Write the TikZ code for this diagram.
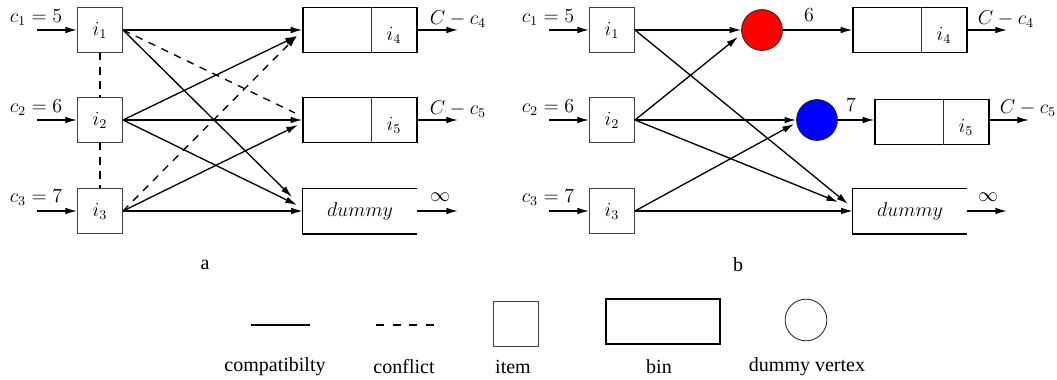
\documentclass[tikz,border=0pt]{standalone}
\usepackage{fontspec}
\setmainfont{Liberation Serif}
\usetikzlibrary{arrows.meta,calc}
\begin{document}
\begin{tikzpicture}[x=0.6pt,y=-0.6pt,
  every node/.style={font=\fontsize{11.5}{13}\selectfont, inner sep=0pt},
  itembox/.style={draw=black!75, line width=0.6pt, minimum width=27pt, minimum height=27pt},
  binbox/.style={draw, line width=0.8pt, minimum width=68.4pt, minimum height=27pt},
  dummybox/.style={minimum width=68.4pt, minimum height=27pt},
  vertex/.style={circle, draw=black!85, line width=0.5pt, minimum size=24.5pt},
  arr/.style={-{Latex[length=7pt,width=4pt]}, line width=0.8pt},
  conf/.style={dash pattern=on 4.5pt off 4pt, line width=0.8pt},
  divider/.style={line width=0.6pt, draw=black!80},
  legtext/.style={font=\rmfamily\fontsize{12}{14}\selectfont}
]
\useasboundingbox (0,0) rectangle (1057,380);

% ---------------- panel a ----------------
\node[itembox] (a1) at (100,30) {$i_1$};
\node[itembox] (a2) at (100,120) {$i_2$};
\node[itembox] (a3) at (100,211) {$i_3$};
\node (ac1) at (36,18) {$c_1=5$};
\node (ac2) at (36,108) {$c_2=6$};
\node (ac3) at (36,198) {$c_3=7$};
\coordinate (ai1) at (37,30);
\coordinate (ai2) at (37,120);
\coordinate (ai3) at (37,211);
\draw[arr] (ai1) -- (a1.west);
\draw[arr] (ai2) -- (a2.west);
\draw[arr] (ai3) -- (a3.west);

\node[binbox] (a4) at (360,30) {};
\draw[divider] ($(a4.north west)+(69,0)$) -- ($(a4.south west)+(69,0)$);
\node (al4) at (394,35) {$i_4$};
\node[binbox] (a5) at (360,120) {};
\draw[divider] ($(a5.north west)+(69,0)$) -- ($(a5.south west)+(69,0)$);
\node (al5) at (394,125) {$i_5$};
\node[dummybox] (ad) at (360,211) {$dummy$};
\draw[line width=0.8pt] (ad.north east) -- (ad.north west) -- (ad.south west) -- (ad.south east);

\node (ao4) at (458,19) {$C-c_4$};
\node (ao5) at (458,109) {$C-c_5$};
\node (ainf) at (440,197) {$\infty$};
\coordinate (ae4) at (458,30);
\coordinate (ae5) at (458,120);
\coordinate (aed) at (458,211);
\draw[arr] (a4.east) -- (ae4);
\draw[arr] (a5.east) -- (ae5);
\draw[arr] (ad.east) -- (aed);

\coordinate (ta1d) at (292,197);
\coordinate (ta15) at (295,113);
\coordinate (ta4) at (297,36);
\coordinate (ta2d) at (297,205);
\coordinate (ta35) at (298,125);
\draw[arr] (a1.east) -- (a4.west);
\draw[arr] (a1.east) -- (ta1d);
\draw[conf] (a1.east) -- (ta15);
\draw[arr] (a2.east) -- (ta4);
\draw[arr] (a2.east) -- (a5.west);
\draw[arr] (a2.east) -- (ta2d);
\draw[conf,-{Latex[length=7pt,width=4pt]}] (a3.east) -- (ta4);
\draw[arr] (a3.east) -- (ta35);
\draw[arr] (a3.east) -- (ad.west);
\draw[conf] (a1.south) -- (a2.north);
\draw[conf] (a2.south) -- (a3.north);

\node[legtext] (capa) at (205,265) {a};

% ---------------- panel b ----------------
\node[itembox] (b1) at (612,30) {$i_1$};
\node[itembox] (b2) at (612,120) {$i_2$};
\node[itembox] (b3) at (612,211) {$i_3$};
\node (bc1) at (548,18) {$c_1=5$};
\node (bc2) at (548,108) {$c_2=6$};
\node (bc3) at (548,198) {$c_3=7$};
\coordinate (bi1) at (549,30);
\coordinate (bi2) at (549,120);
\coordinate (bi3) at (549,211);
\draw[arr] (bi1) -- (b1.west);
\draw[arr] (bi2) -- (b2.west);
\draw[arr] (bi3) -- (b3.west);

\node[vertex, fill=red] (red) at (762,30) {};
\node[vertex, fill=blue] (blue) at (817,120) {};
\node (l6) at (809,15) {$6$};
\node (l7) at (851,105) {$7$};

\node[binbox] (b4) at (910,30) {};
\draw[divider] ($(b4.north west)+(69,0)$) -- ($(b4.south west)+(69,0)$);
\node (bl4) at (944,35) {$i_4$};
\node[binbox] (b5) at (932,122) {};
\draw[divider] ($(b5.north west)+(69,0)$) -- ($(b5.south west)+(69,0)$);
\node (bl5) at (966,127) {$i_5$};
\node[dummybox] (bd) at (910,211) {$dummy$};
\draw[line width=0.8pt] (bd.north east) -- (bd.north west) -- (bd.south west) -- (bd.south east);

\node (bo4) at (1006,19) {$C-c_4$};
\node (bo5) at (1028,108) {$C-c_5$};
\node (binf) at (988,197) {$\infty$};
\coordinate (be4) at (1007,30);
\coordinate (be5) at (1029,120);
\coordinate (bed) at (1007,211);
\draw[arr] (b4.east) -- (be4);
\draw[arr] (b5.east |- be5) -- (be5);
\draw[arr] (bd.east) -- (bed);

\draw[arr] (red.east) -- (b4.west);
\draw[arr] (blue.east) -- (blue.east -| b5.west);

\coordinate (tb1d) at (848,204);
\coordinate (tb2r) at (738,37);
\coordinate (tb2d) at (838,202);
\coordinate (tb3b) at (794,124);
\draw[arr] (b1.east) -- (red.west);
\draw[arr] (b1.east) -- (tb1d);
\draw[arr] (b2.east) -- (tb2r);
\draw[arr] (b2.east) -- (blue.west);
\draw[arr] (b2.east) -- (tb2d);
\draw[arr] (b3.east) -- (tb3b);
\draw[arr] (b3.east) -- (bd.west);

\node[legtext] (capb) at (738,265) {b};

% ---------------- legend ----------------
\coordinate (lc1) at (251,325);
\coordinate (lc2) at (310,325);
\draw[line width=0.8pt] (lc1) -- (lc2);
\node[legtext] (lct) at (275,367) {compatibilty};
\coordinate (ld1) at (376,325);
\coordinate (ld2) at (435,325);
\draw[line width=0.8pt, dash pattern=on 4.8pt off 5.2pt] (ld1) -- (ld2);
\node[legtext] (ldt) at (404,367) {conflict};
\node[itembox] (litem) at (515.5,323.5) {};
\node[legtext] (lit) at (513,367) {item};
\node[binbox] (lbin) at (663,321.5) {};
\node[legtext] (lbt) at (659,367) {bin};
\node[vertex, fill=white, minimum size=25pt] (lv) at (806,320) {};
\node[legtext] (lvt) at (807,367) {dummy vertex};
\end{tikzpicture}
\end{document}
